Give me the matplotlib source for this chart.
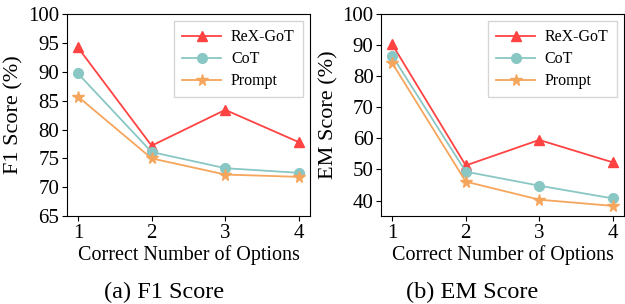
import matplotlib
matplotlib.use("Agg")
import matplotlib.pyplot as plt

plt.rcParams['font.family'] = ['Liberation Serif', 'DejaVu Serif']
plt.rcParams['mathtext.fontset'] = 'stix'

x_options = [1, 2, 3, 4]
series_names = ["ReX-GoT", "CoT", "Prompt"]
f1_rexgot = [94.2, 77.2, 83.4, 77.8]
f1_cot = [89.7, 76.1, 73.3, 72.5]
f1_prompt = [85.7, 75.0, 72.2, 71.8]
em_rexgot = [90.2, 51.3, 59.5, 52.3]
em_cot = [86.5, 49.3, 44.8, 40.7]
em_prompt = [84.2, 46.1, 40.3, 38.3]
f1_ticks = [65, 70, 75, 80, 85, 90, 95, 100]
em_ticks = [40, 50, 60, 70, 80, 90, 100]

colors = ["#ff4343", "#89c7c5", "#f5a55c"]
markers = ["^", "o", "*"]
msizes = [7.5, 7, 8.5]

fig = plt.figure(figsize=(6.25, 3.04), dpi=100)
ax1 = fig.add_axes([0.107, 0.289, 0.389, 0.665])
ax2 = fig.add_axes([0.610, 0.289, 0.388, 0.665])

def draw(ax, data, ylim, yticks, ylabel):
    for vals, name, c, m, ms in zip(data, series_names, colors, markers, msizes):
        ax.plot(x_options, vals, color=c, marker=m, markersize=ms, linewidth=1.3, label=name)
    ax.set_ylim(*ylim)
    ax.set_yticks(yticks)
    ax.set_xticks(x_options)
    ax.tick_params(labelsize=15, pad=2)
    ax.set_ylabel(ylabel, fontsize=16, labelpad=3)
    ax.set_xlabel("Correct Number of Options", fontsize=14.5, labelpad=2)
    ax.legend(loc="upper right", fontsize=11.5, handlelength=2.45, borderpad=0.5,
              labelspacing=0.38, handletextpad=0.6, fancybox=False, framealpha=0.8,
              borderaxespad=0.45)

draw(ax1, [f1_rexgot, f1_cot, f1_prompt], (65, 100), f1_ticks, "F1 Score (%)")
draw(ax2, [em_rexgot, em_cot, em_prompt], (35, 100), em_ticks, "EM Score (%)")

fig.text(0.262, 0.02, "(a) F1 Score", ha="center", fontsize=17.5)
fig.text(0.755, 0.02, "(b) EM Score", ha="center", fontsize=17.5)

fig.savefig("out.png", dpi=100)
